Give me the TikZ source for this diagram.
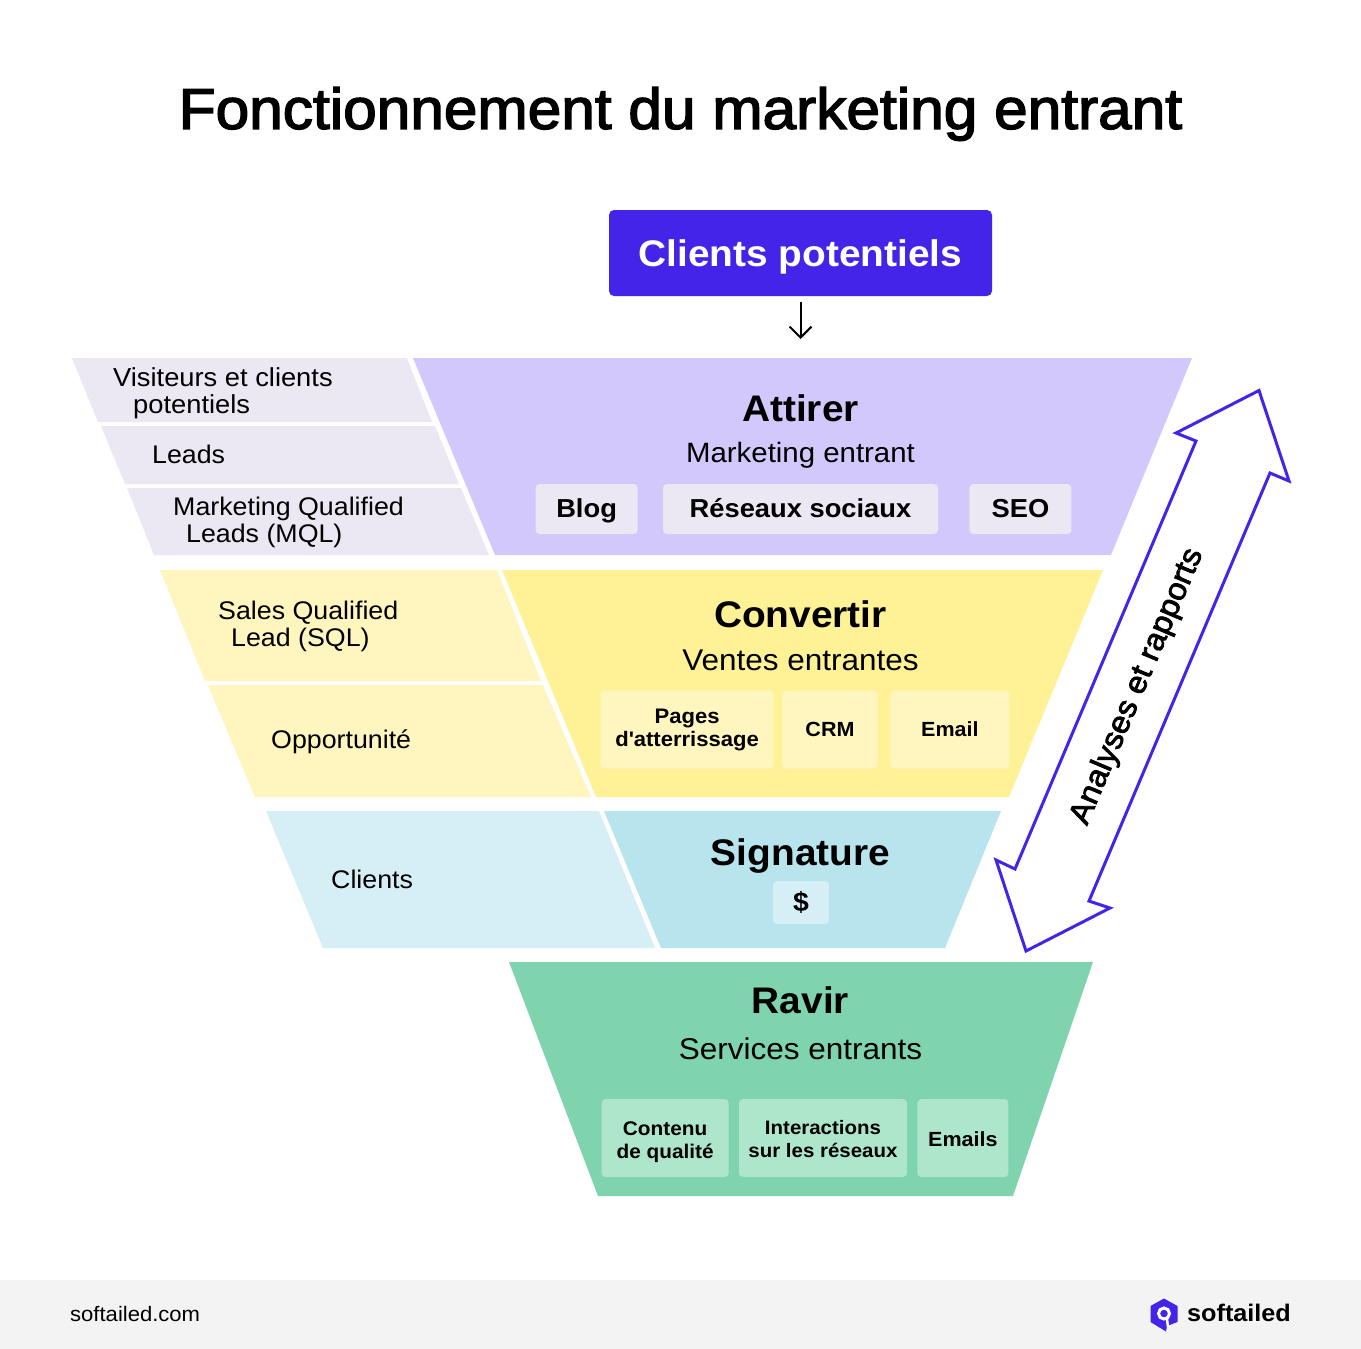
\documentclass[tikz,border=0pt]{standalone}
\usepackage{fontspec}
\setmainfont[FakeStretch=1.05]{Liberation Sans}
\newfontfamily\medfont[FakeStretch=1.05,FakeBold=2.5]{Liberation Sans}
\usetikzlibrary{positioning,arrows.meta}
\definecolor{brandblue}{HTML}{4324E8}
\definecolor{attirerfill}{HTML}{D2C8FC}
\definecolor{attirerpale}{HTML}{EBE8F3}
\definecolor{convertirfill}{HTML}{FFF296}
\definecolor{convertirpale}{HTML}{FFF5BF}
\definecolor{signaturefill}{HTML}{B8E4ED}
\definecolor{signaturepale}{HTML}{D6EFF6}
\definecolor{ravirfill}{HTML}{7FD4AE}
\definecolor{ravirpale}{HTML}{AEE6CC}
\definecolor{footerfill}{HTML}{F3F3F3}
\tikzset{
  heading/.style={ % name of a funnel stage
    inner sep=0pt, text=black, font=\bfseries\fontsize{37pt}{40pt}\selectfont
  },
  subheading/.style={ % line under the stage name
    inner sep=0pt, text=black, font=\fontsize{28pt}{32pt}\selectfont
  },
  chip/.style={ % small rounded box inside a stage
    rectangle, rounded corners=4pt, inner sep=0pt, align=center,
    text=black, font=\bfseries\fontsize{20.5pt}{23pt}\selectfont
  },
  bigchip/.style={ % chip of the first stage
    chip, fill=attirerpale, minimum height=50pt, text height=21pt, text depth=5pt,
    font=\bfseries\fontsize{26pt}{28pt}\selectfont
  },
  sidelabel/.style={ % text in the left-hand bands
    anchor=west, inner sep=0pt, align=left, text=black,
    font=\fontsize{25.5pt}{27pt}\selectfont
  }
}
\begin{document}
\begin{tikzpicture}[x=1pt,y=-1pt]
  \useasboundingbox (0,0) rectangle (1361,1349);
  \fill[white] (0,0) rectangle (1361,1349);
  \fill[footerfill] (0,1280) rectangle (1361,1349);

  % bands on the left
  \fill[attirerpale] (72,358) -- (407,358) -- (432,422) -- (98,422) -- cycle;
  \fill[attirerpale] (101,426) -- (435,426) -- (459,484) -- (125,484) -- cycle;
  \fill[attirerpale] (127,488) -- (461,488) -- (489,555) -- (154,555) -- cycle;
  \fill[convertirpale] (160,570) -- (497,570) -- (541,681) -- (205,681) -- cycle;
  \fill[convertirpale] (208,685) -- (543,685) -- (591,797) -- (255,797) -- cycle;
  \fill[signaturepale] (266,811) -- (599,811) -- (655,948) -- (323,948) -- cycle;

  % funnel
  \fill[attirerfill] (413,358) -- (1192,358) -- (1111,555) -- (495,555) -- cycle;
  \fill[convertirfill] (502,570) -- (1103,570) -- (1009,797) -- (596,797) -- cycle;
  \fill[signaturefill] (604,811) -- (1001,811) -- (945,948) -- (661,948) -- cycle;
  \fill[ravirfill] (509,962) -- (1093,962) -- (1013,1196) -- (598,1196) -- cycle;

  \node[inner sep=0pt,font=\medfont\fontsize{57.5pt}{60pt}\selectfont] (title) at (680.5,114) {Fonctionnement du marketing entrant};

  \node[fill=brandblue,rounded corners=5pt,minimum width=383pt,minimum height=86pt,inner sep=0pt,text=white,text height=31pt,text depth=5pt,font=\bfseries\fontsize{37pt}{40pt}\selectfont] (clients) at (800.5,253) {Clients potentiels};
  \coordinate (funneltop) at (800.5,339);
  \draw[-{Straight Barb[length=11pt,width=22pt]},line width=2pt] ([yshift=-6pt]clients.south) -- (funneltop);

  \node[heading] (attirer) at (800.5,408) {Attirer};
  \node[subheading,below=20pt of attirer] (entrant) {Marketing entrant};
  \node[bigchip,minimum width=275pt] (reseaux) at (800.5,509) {Réseaux sociaux};
  \node[bigchip,minimum width=102pt,left=25pt of reseaux] (blog) {Blog};
  \node[bigchip,minimum width=102pt,right=31pt of reseaux] (seo) {SEO};

  \node[sidelabel,font=\fontsize{26pt}{27pt}\selectfont] (visiteurs) at (113,393) {Visiteurs et clients\\\hspace*{20pt}potentiels};
  \node[sidelabel] (leads) at (152,454) {Leads};
  \node[sidelabel] (mql) at (173,522.5) {Marketing Qualified\\\hspace*{13pt}Leads (MQL)};
  \node[sidelabel] (sql) at (218,626.5) {Sales Qualified\\\hspace*{13pt}Lead (SQL)};
  \node[sidelabel] (opportunite) at (271,742) {Opportunité};
  \node[sidelabel] (clientsband) at (331,879) {Clients};

  \node[heading] (convertir) at (800.5,614) {Convertir};
  \node[subheading,font=\fontsize{30pt}{32pt}\selectfont,below=22pt of convertir] (ventes) {Ventes entrantes};
  \node[chip,fill=convertirpale,minimum width=96pt,minimum height=78pt] (crm) at (830,729.5) {CRM};
  \node[chip,fill=convertirpale,minimum width=173pt,minimum height=78pt,left=8pt of crm,font=\bfseries\fontsize{21pt}{23pt}\selectfont] (pages) {Pages\\d\textquotesingle atterrissage};
  \node[chip,fill=convertirpale,minimum width=119pt,minimum height=78pt,right=12pt of crm] (email) {Email};

  \node[heading] (signature) at (800.5,856) {Signature};
  \node[chip,fill=signaturepale,minimum width=56pt,minimum height=43pt,font=\bfseries\fontsize{27pt}{28pt}\selectfont] (dollar) at (801,902.5) {\$};

  \node[heading] (ravir) at (800.5,1000) {Ravir};
  \node[subheading,font=\fontsize{30pt}{32pt}\selectfont,below=24pt of ravir] (services) {Services entrants};
  \node[fill=ravirpale,rounded corners=4pt,minimum width=168pt,minimum height=78pt,inner sep=0pt] (interactions) at (823,1138) {};
  \node[chip,fill=ravirpale,minimum width=127pt,minimum height=78pt,left=10pt of interactions] (contenu) {};
  \node[chip,fill=ravirpale,minimum width=91pt,minimum height=78pt,right=10pt of interactions] (emails) {};
  \node[chip,font=\bfseries\fontsize{19.5pt}{23pt}\selectfont,yshift=-1pt] (interactionstext) at (interactions) {Interactions\\sur les réseaux};
  \node[chip,font=\bfseries\fontsize{19.8pt}{23pt}\selectfont,yshift=-4pt] (contenutext) at (contenu) {Contenu\\de qualité};
  \node[chip,yshift=-1pt] (emailstext) at (emails) {Emails};

  % double arrow on the right
  \draw[brandblue,line width=3pt,fill=white,miter limit=10]
    (1259,390.5) -- (1176,433) -- (1196,441) -- (1015,869) -- (996,860)
    -- (1026,951) -- (1110,908) -- (1089,901) -- (1270,473) -- (1289,481) -- cycle;
  \node[inner sep=0pt,rotate=67,font=\medfont\fontsize{31pt}{33pt}\selectfont] (analyses) at (1137.5,686.5) {Analyses et rapports};

  % footer
  \node[inner sep=0pt,anchor=west,font=\fontsize{21pt}{23pt}\selectfont] (site) at (70,1314) {softailed.com};
  \node[inner sep=0pt,anchor=west,font=\bfseries\fontsize{24pt}{26pt}\selectfont] (brand) at (1187,1313) {softailed};
  \fill[brandblue] (1164,1298.5) -- (1177.5,1306) -- (1177.5,1322) -- (1167,1326) -- (1166,1331.5) -- (1150.5,1322) -- (1150.5,1306) -- cycle;
  \draw[white,line width=3pt] (1164,1313.5) circle (5.5pt);
  \draw[white,line width=2.5pt] (1167,1319) -- (1168,1327);
\end{tikzpicture}
\end{document}
